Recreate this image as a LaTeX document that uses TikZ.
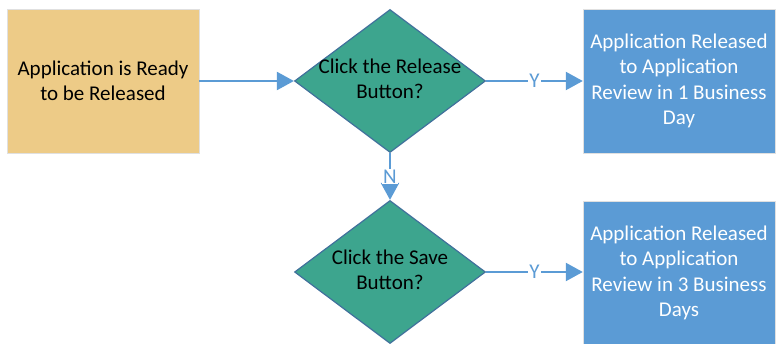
\documentclass[tikz,border=0pt]{standalone}
\usepackage{fontspec}
\setmainfont{Carlito}
\usetikzlibrary{shapes.geometric,arrows.meta}
\definecolor{tanfill}{HTML}{EDCB87}
\definecolor{tealfill}{HTML}{3DA58E}
\definecolor{tealline}{HTML}{41719C}
\definecolor{flowblue}{HTML}{5B9BD5}
\begin{document}
\begin{tikzpicture}[x=1pt,y=-1pt,
		every node/.style={font=\fontsize{21}{25.5}\selectfont},
		stepbox/.style={draw=black!12, minimum width=192pt, minimum height=144pt, inner sep=0pt, align=center},
		decision/.style={diamond, draw=tealline, line width=1.2pt, fill=tealfill, inner sep=0pt, minimum width=191pt, minimum height=143pt},
		flow/.style={draw=flowblue, line width=2.2pt, -{Triangle[length=17pt,width=18pt]}},
		answer/.style={fill=white, text=flowblue, inner sep=1pt}]
	\useasboundingbox (0,0) rectangle (776,344);
	\node [stepbox, fill=tanfill] (ready) at (103,81) {Application is Ready\\to be Released};
	\node [decision, label=center:{\begin{tabular}{c}Click the Release\\Button?\end{tabular}}] (release) at (390,81) {};
	\node [stepbox, fill=flowblue, text=white] (oneday) at (679,81) {Application Released\\to Application\\Review in 1 Business\\Day};
	\node [decision, label=center:{\begin{tabular}{c}Click the Save\\Button?\end{tabular}}] (save) at (390,272) {};
	\node [stepbox, fill=flowblue, text=white] (threedays) at (679,273) {Application Released\\to Application\\Review in 3 Business\\Days};
	\draw [flow] (ready) -- (release);
	\draw [flow] (release) -- node[answer] {Y} (oneday);
	\draw [flow] (release) -- node[answer] {N} (save);
	\draw [flow] (save) -- node[answer] {Y} (threedays.west |- save);
\end{tikzpicture}
\end{document}
